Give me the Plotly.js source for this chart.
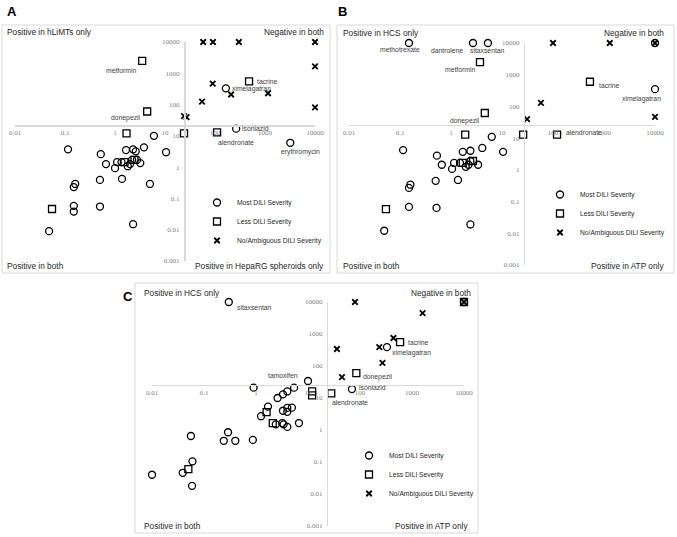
<!DOCTYPE html>
<html><head><meta charset="utf-8">
<script src="https://cdn.plot.ly/plotly-3.0.1.min.js"></script>
<style>html,body{margin:0;padding:0;background:#fff}#chart{width:677px;height:537px}</style>
</head><body><div id="chart"></div>
<script>
// ---------- DATA ----------
// Panel A : y = hLiMTs, x = HepaRG spheroids
const A_most_x = [265, 165, 3200, 6, 10.5, 0.115, 0.52, 0.66, 1.0, 1.1, 1.35, 1.66, 1.8, 2.0, 2.3, 2.6, 2.2, 2.75, 3.2, 3.8, 0.5, 1.38, 5, 0.16, 0.15, 0.15, 0.15, 0.5, 2.3, 0.048];
const A_most_y = [17, 330, 6, 10, 3, 3.7, 2.6, 1.25, 0.93, 1.45, 1.45, 3.5, 1.07, 1.25, 3.7, 3.2, 1.7, 1.7, 1.35, 4.3, 0.39, 0.42, 0.29, 0.29, 0.23, 0.058, 0.038, 0.055, 0.015, 0.009];
const A_most_name = ['isoniazid', 'ximelagatran', 'erythromycin'];
const A_less_x = [3.5, 4.4, 480, 110, 1.7, 24, 0.055, 1.55, 2.45];
const A_less_y = [2500, 60, 550, 13, 12, 12, 0.046, 1.45, 1.7];
const A_less_name = ['metformin', 'donepezil', 'tacrine', 'alendronate'];
const A_none_x = [58, 91, 300, 10000, 10000, 90, 210, 1150, 55, 10000, 24, 27];
const A_none_y = [10000, 10000, 10000, 10000, 1650, 470, 210, 230, 125, 81, 43, 40];

// Panel B : y = HCS, x = ATP
const B_most_x = [0.15, 2.7, 5.3, 10000, 6.3, 10000, 10.5, 0.115, 0.53, 1.7, 2.4, 4.1, 0.66, 1.15, 1.05, 1.5, 1.95, 2.2, 2.4, 3.4, 0.5, 1.37, 0.16, 0.15, 0.15, 0.52, 2.4, 0.049];
const B_most_y = [10000, 10000, 10000, 350, 11, 10000, 3.7, 4.2, 2.8, 3.7, 4, 4.9, 1.45, 1.65, 1.07, 1.65, 1.25, 1.45, 1.9, 1.45, 0.45, 0.48, 0.34, 0.27, 0.068, 0.063, 0.019, 0.012];
const B_most_name = ['methotrexate', 'dantrolene', 'sitaxsentan', 'ximelagatran'];
const B_less_x = [3.7, 4.6, 530, 120, 1.9, 26, 0.053, 1.7, 2.7];
const B_less_y = [2500, 62, 600, 13, 13, 13, 0.058, 1.65, 1.9];
const B_less_name = ['metformin', 'donepezil', 'tacrine', 'alendronate'];
const B_none_x = [100, 1300, 10000, 58, 31, 10000];
const B_none_y = [10000, 10000, 10000, 130, 40, 47];

// Panel C : y = HCS, x = ATP
const C_most_x = [0.3, 10, 330, 70, 10000, 0.9, 5.4, 2.6, 3.3, 4, 1.7, 1.25, 3.3, 4, 4, 4.9, 2.4, 3.2, 3.4, 4, 6.7, 0.056, 0.29, 0.24, 0.4, 0.87, 0.06, 0.039, 0.01, 0.059];
const C_most_y = [10000, 34, 390, 19, 10000, 21, 21, 10, 13, 16, 5.4, 2.7, 4, 4.9, 3.7, 5, 1.5, 1.65, 1.5, 1.25, 1.65, 0.65, 0.85, 0.46, 0.46, 0.49, 0.105, 0.046, 0.04, 0.018];
const C_most_name = ['sitaxsentan', 'tamoxifen', 'ximelagatran', 'isoniazid'];
const C_less_x = [590, 85, 28, 10000, 12, 12, 1.6, 2.1, 0.05];
const C_less_y = [560, 60, 14, 10000, 16, 12, 3.6, 1.65, 0.06];
const C_less_name = ['tacrine', 'donepezil', 'alendronate'];
const C_none_x = [80, 10000, 1600, 440, 235, 36, 270, 45];
const C_none_y = [10000, 10000, 4500, 750, 390, 340, 125, 45];

const xTickVals = [0.01, 0.1, 1, 10, 100, 1000, 10000];
const xTickText = ['0.01', '0.1', '1', '10', '100', '1000', '10000'];
const yTickVals = [0.001, 0.01, 0.1, 1, 10, 100, 1000, 10000];
const yTickText = ['0.001', '0.01', '0.1', '1', '10', '100', '1000', '10000'];
const seriesNames = ['Most DILI Severity', 'Less DILI Severity', 'No/Ambiguous DILI Severity'];
const quadrantText = {
  A: ['Positive in hLiMTs only', 'Negative in both', 'Positive in both', 'Positive in HepaRG spheroids only'],
  B: ['Positive in HCS only', 'Negative in both', 'Positive in both', 'Positive in ATP only'],
  C: ['Positive in HCS only', 'Negative in both', 'Positive in both', 'Positive in ATP only']
};

// ---------- LAYOUT / STYLE ----------
const W = 677, H = 537;
const SANS = 'Liberation Sans, Arial, sans-serif';
const SERIF = 'Liberation Serif, Times New Roman, serif';
const LBL = '#404040';
const panels = {
  A: {x0: 15, x1: 315, yt: 42, yb: 261, cx: 24, cy: 22, frame: [2, 25, 330, 273], ax: '', leg: 'legend', legPos: [197, 188],
      quad: [[5, 32, 'left'], [326, 32, 'right'], [5, 266, 'left'], [326, 266, 'right']], letter: [5, 11]},
  B: {x0: 349, x1: 655, yt: 43, yb: 265, cx: 27, cy: 26, frame: [337, 25, 674, 273], ax: '2', leg: 'legend2', legPos: [540, 180],
      quad: [[341, 33, 'left'], [666, 33, 'right'], [341, 266, 'left'], [666, 266, 'right']], letter: [336, 11]},
  C: {x0: 152, x1: 464, yt: 302, yb: 526, cx: 23, cy: 26, frame: [135, 283, 478, 533], ax: '3', leg: 'legend3', legPos: [349, 441],
      quad: [[142, 293, 'left'], [473, 293, 'right'], [142, 526, 'left'], [470, 526, 'right']], letter: [121, 296]}
};
const labelStyle = {
  A: {metformin: ['right', -4, -10], donepezil: ['right', -4, -6], tacrine: ['left', 6, 0], ximelagatran: ['left', 4, -1],
      isoniazid: ['left', 4, 0], alendronate: ['left', -1, -10], erythromycin: ['center', 10, -9]},
  B: {methotrexate: ['center', -9, -7], dantrolene: ['right', -8, -8], sitaxsentan: ['center', 0, -8], metformin: ['right', -3, -7],
      donepezil: ['right', -3, -8], tacrine: ['left', 7, -4], ximelagatran: ['center', -14, -10], alendronate: ['left', 7, 2]},
  C: {sitaxsentan: ['left', 6, -5], tamoxifen: ['right', -8, 5], tacrine: ['left', 6, 0], ximelagatran: ['left', 3, -6],
      donepezil: ['left', 5, -4], isoniazid: ['left', 5, 2], alendronate: ['left', -1, -9]}
};
const markerStyles = [
  {symbol: 'circle-open', size: 7, color: '#000', line: {color: '#000', width: 1.3}},
  {symbol: 'square-open', size: 7, color: '#000', line: {color: '#000', width: 1.3}},
  {symbol: 'x-thin-open', size: 5.5, color: '#000', line: {color: '#000', width: 1.8}}
];
const dataSets = {
  A: [[A_most_x, A_most_y, A_most_name], [A_less_x, A_less_y, A_less_name], [A_none_x, A_none_y, []]],
  B: [[B_most_x, B_most_y, B_most_name], [B_less_x, B_less_y, B_less_name], [B_none_x, B_none_y, []]],
  C: [[C_most_x, C_most_y, C_most_name], [C_less_x, C_less_y, C_less_name], [C_none_x, C_none_y, []]]
};

const traces = [], annotations = [], shapes = [];
const layout = {
  width: W, height: H, margin: {l: 0, r: 0, t: 0, b: 0}, paper_bgcolor: '#fff', plot_bgcolor: 'rgba(0,0,0,0)',
  font: {family: SANS, color: LBL}, showlegend: true
};

Object.keys(panels).forEach(key => {
  const p = panels[key];
  const xd = [p.x0 / W, p.x1 / W], yd = [1 - p.yb / H, 1 - p.yt / H];
  const xpos = xd[0] + (Math.log10(p.cx) + 2) / 6 * (xd[1] - xd[0]);
  const ypos = yd[0] + (Math.log10(p.cy) + 3) / 7 * (yd[1] - yd[0]);
  const tf = {family: SERIF, size: 7, color: '#808080'};
  layout['xaxis' + p.ax] = {type: 'log', domain: xd, range: [-2, 4], anchor: 'free', position: ypos,
    showline: true, linecolor: '#d9d9d9', linewidth: 1.5, showgrid: false, zeroline: false, ticks: '',
    tickmode: 'array', tickvals: xTickVals, ticktext: xTickText, tickfont: tf, fixedrange: true};
  layout['yaxis' + p.ax] = {type: 'log', domain: yd, range: [-3, 4], anchor: 'free', position: xpos,
    showline: true, linecolor: '#d9d9d9', linewidth: 1.5, showgrid: false, zeroline: false, ticks: '',
    tickmode: 'array', tickvals: yTickVals, ticktext: yTickText, tickfont: tf, fixedrange: true, ticklabelstandoff: 3};
  layout[p.leg] = {x: p.legPos[0] / W, y: 1 - p.legPos[1] / H, xanchor: 'left', yanchor: 'top', bgcolor: 'rgba(0,0,0,0)',
    font: {family: SANS, size: 6.7, color: '#262626'}, itemwidth: 30, tracegroupgap: 0, traceorder: 'normal'};

  dataSets[key].forEach((s, i) => {
    traces.push({type: 'scatter', mode: 'markers', x: s[0], y: s[1], name: seriesNames[i],
      xaxis: 'x' + p.ax, yaxis: 'y' + p.ax, legend: p.leg, cliponaxis: false,
      marker: markerStyles[i], hoverinfo: 'x+y'});
    s[2].forEach((nm, j) => {
      if (!nm) return;
      const st = labelStyle[key][nm] || ['left', 5, 0];
      annotations.push({xref: 'x' + p.ax, yref: 'y' + p.ax, x: Math.log10(s[0][j]), y: Math.log10(s[1][j]),
        text: nm, showarrow: false, xanchor: st[0], yanchor: 'middle', xshift: st[1], yshift: st[2],
        font: {family: SANS, size: 6.8, color: LBL}});
    });
  });

  p.quad.forEach((q, i) => {
    annotations.push({xref: 'paper', yref: 'paper', x: q[0] / W, y: 1 - q[1] / H, text: quadrantText[key][i],
      showarrow: false, xanchor: q[2], yanchor: 'middle', font: {family: SANS, size: 8.3, color: '#262626'}});
  });
  annotations.push({xref: 'paper', yref: 'paper', x: p.letter[0] / W, y: 1 - p.letter[1] / H, text: '<b>' + key + '</b>',
    showarrow: false, xanchor: 'left', yanchor: 'middle', font: {family: SANS, size: 13, color: '#000'}});
  const f = p.frame;
  shapes.push({type: 'rect', xref: 'paper', yref: 'paper', x0: f[0] / W, x1: f[2] / W, y0: 1 - f[3] / H, y1: 1 - f[1] / H,
    line: {color: '#d9d9d9', width: 1}, fillcolor: 'rgba(0,0,0,0)', layer: 'below'});
});
layout.annotations = annotations;
layout.shapes = shapes;
Plotly.newPlot('chart', traces, layout, {displayModeBar: false, staticPlot: true});
</script>
</body></html>
